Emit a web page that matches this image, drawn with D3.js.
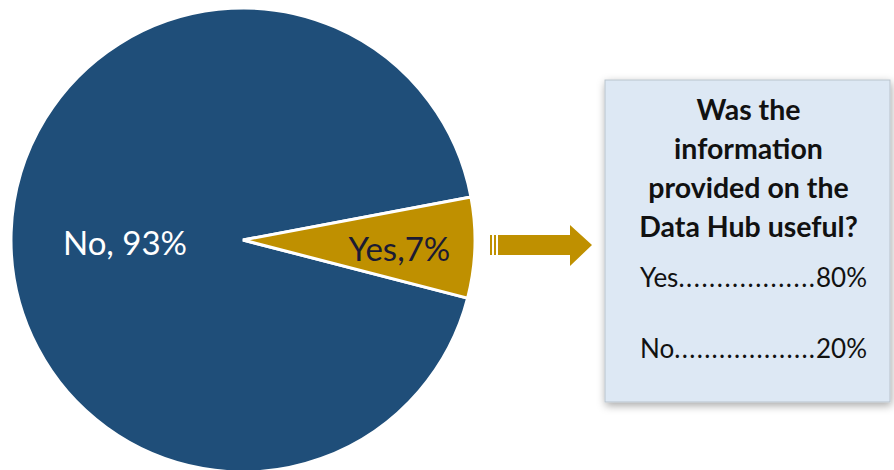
<!DOCTYPE html>
<html>
<head>
<meta charset="utf-8">
<script src="https://cdn.jsdelivr.net/npm/d3@7"></script>
<style>
  html, body { margin: 0; padding: 0; background: #ffffff; }
  svg { display: block; }
</style>
</head>
<body>
<svg id="chart" width="894" height="470"></svg>
<script>
// Survey: did respondents use the Data Hub?
const categories = ["No", "Yes"];
const shares = [93, 7];
const labelSeparators = [", ", ","];

// Follow-up question for those who used it
const questionLines = ["Was the", "information", "provided on the", "Data Hub useful?"];
const followCategories = ["Yes", "No"];
const followShares = [80, 20];
const followDots = [18, 19];

const colors = ["#1f4e79", "#bf9000"];
const labelColors = ["#ffffff", "#1b1a33"];

const svg = d3.select("#chart");
const font = "Lato, 'Open Sans', sans-serif";

// Shadow for the follow-up box
const defs = svg.append("defs");
const shadow = defs.append("filter").attr("id", "boxShadow")
  .attr("x", "-10%").attr("y", "-10%").attr("width", "125%").attr("height", "125%");
shadow.append("feDropShadow")
  .attr("dx", 1).attr("dy", 3).attr("stdDeviation", 4)
  .attr("flood-color", "#000").attr("flood-opacity", 0.35);

// Pie
const cx = 243, cy = 240, radius = 232;
const startDeg = 104.5;
const pie = d3.pie().sort(null)
  .startAngle(startDeg * Math.PI / 180)
  .endAngle(startDeg * Math.PI / 180 + 2 * Math.PI);
const arcs = pie(shares);
const arc = d3.arc().innerRadius(0).outerRadius(radius);

const g = svg.append("g").attr("transform", `translate(${cx},${cy})`);
g.selectAll("path.slice")
  .data(arcs)
  .join("path")
  .attr("class", "slice")
  .attr("d", arc)
  .attr("fill", (d, i) => colors[i])
  .attr("stroke", "#ffffff")
  .attr("stroke-width", 3)
  .attr("stroke-linejoin", "miter");

// Slice labels
const yesLabelArc = d3.arc().innerRadius(radius * 0.67).outerRadius(radius * 0.67);
g.selectAll("text.slice-label")
  .data(arcs)
  .join("text")
  .attr("class", "slice-label")
  .attr("transform", (d, i) => {
    if (i === 0) return `translate(${-118},${7})`;
    const [x, y] = yesLabelArc.centroid(d);
    return `translate(${x + 1},${y + 7})`;
  })
  .attr("text-anchor", "middle")
  .attr("dominant-baseline", "middle")
  .attr("font-family", font)
  .attr("font-size", 33)
  .attr("fill", (d, i) => labelColors[i])
  .text((d, i) => `${categories[i]}${labelSeparators[i]}${shares[i]}%`);

// Arrow pointing to the follow-up box
const arrow = svg.append("g").attr("fill", colors[1]);
arrow.append("rect").attr("x", 490).attr("y", 235).attr("width", 2).attr("height", 20);
arrow.append("rect").attr("x", 494).attr("y", 235).attr("width", 2).attr("height", 20);
arrow.append("path")
  .attr("d", "M498,235 L570,235 L570,225 L592,245 L570,266 L570,255 L498,255 Z");

// Follow-up box
const box = { x: 605, y: 80, w: 285, h: 322 };
svg.append("rect")
  .attr("x", box.x).attr("y", box.y)
  .attr("width", box.w).attr("height", box.h)
  .attr("fill", "#dde8f4")
  .attr("stroke", "#b9c3cc")
  .attr("stroke-width", 1)
  .attr("filter", "url(#boxShadow)");

const boxCx = box.x + box.w / 2 + 1;
svg.append("g").selectAll("text")
  .data(questionLines)
  .join("text")
  .attr("x", boxCx)
  .attr("y", (d, i) => 120 + i * 39)
  .attr("text-anchor", "middle")
  .attr("font-family", font)
  .attr("font-weight", "bold")
  .attr("font-size", 28.5)
  .attr("fill", "#111111")
  .text(d => d);

// Answer rows: label, dot leader, value
const rowLeft = 640, rowRight = 867;
const rows = svg.append("g")
  .attr("font-family", font)
  .attr("font-size", 26)
  .attr("fill", "#111111");
followCategories.forEach((cat, i) => {
  const y = 287 + i * 71;
  const lab = rows.append("text").attr("x", rowLeft).attr("y", y).text(cat);
  const val = rows.append("text").attr("x", rowRight).attr("y", y)
    .attr("text-anchor", "end").text(`${followShares[i]}%`);
  const x0 = rowLeft + lab.node().getComputedTextLength();
  const x1 = rowRight - val.node().getComputedTextLength();
  rows.append("text").attr("x", x0).attr("y", y)
    .attr("textLength", x1 - x0 - 1)
    .attr("lengthAdjust", "spacing")
    .text(".".repeat(followDots[i]));
});
</script>
</body>
</html>
